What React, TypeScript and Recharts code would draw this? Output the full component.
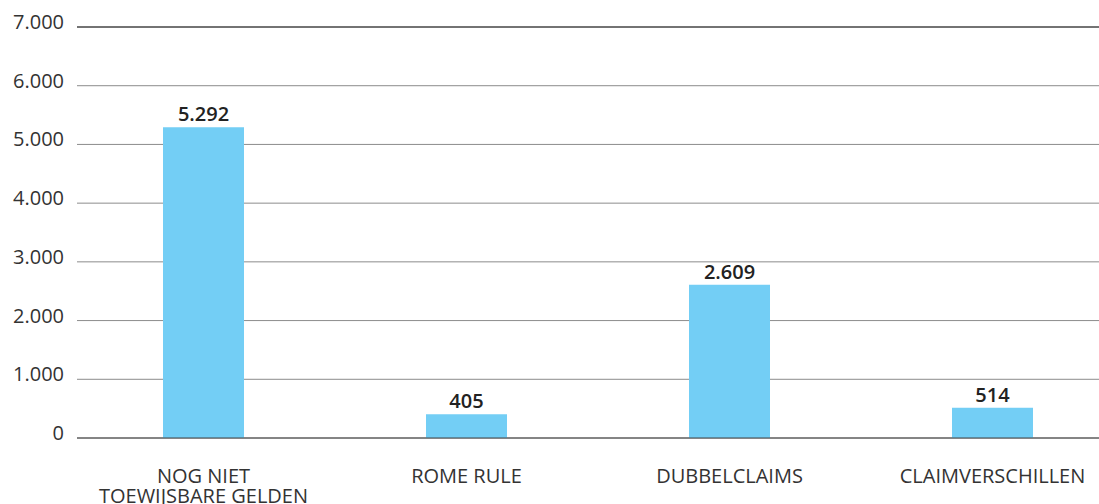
import React from "react";
import { BarChart, Bar, XAxis, YAxis, CartesianGrid, LabelList, ReferenceLine } from "recharts";

const categories = ["NOG NIET\nTOEWIJSBARE GELDEN", "ROME RULE", "DUBBELCLAIMS", "CLAIMVERSCHILLEN"];
const amounts = [5292, 405, 2609, 514];
const yTicks = [0, 1000, 2000, 3000, 4000, 5000, 6000, 7000];

const data = categories.map((c, i) => ({ name: c, value: amounts[i] }));

const fmt = (v: number | string) => String(v).replace(/\B(?=(\d{3})+(?!\d))/g, ".");

const FONT = "'Open Sans', 'Noto Sans', sans-serif";

const YTick = (props: any) => {
  const { x, y, payload } = props;
  return (
    <text x={x} y={y + 2} textAnchor="end" fontSize={20} fill="#333" fontFamily={FONT}>
      {fmt(payload.value)}
    </text>
  );
};

const XTick = (props: any) => {
  const { x, y, payload } = props;
  const lines = String(payload.value).split("\n");
  return (
    <g>
      {lines.map((l, i) => (
        <text key={i} x={x} y={y + 43 + i * 20} textAnchor="middle" fontSize={20} fill="#333" fontFamily={FONT}>
          {l}
        </text>
      ))}
    </g>
  );
};

export default function App() {
  React.useEffect(() => {
    document.body.style.margin = "0";
    document.body.style.overflow = "hidden";
  }, []);
  return (
    <div style={{ position: "absolute", left: 0, top: 0, width: 1099, height: 504, background: "#fff", overflow: "hidden" }}>
      <BarChart width={1099} height={504} data={data} margin={{ top: 27, right: 0, bottom: 0, left: 0 }}>
        <CartesianGrid vertical={false} stroke="#8c8c8c" />
        <XAxis
          dataKey="name"
          height={66}
          tickLine={false}
          axisLine={false}
          tickSize={0}
          tick={<XTick />}
          interval={0}
          padding={{ left: -5, right: -25 }}
        />
        <YAxis
          width={77}
          domain={[0, 7000]}
          ticks={yTicks}
          tickLine={false}
          axisLine={false}
          tickSize={0}
          tickMargin={13}
          tick={<YTick />}
        />
        <ReferenceLine y={7000} stroke="#222" />
        <Bar dataKey="value" fill="#73cef5" barSize={81} isAnimationActive={false}>
          <LabelList
            dataKey="value"
            position="top"
            offset={6}
            formatter={(v: any) => fmt(v)}
            fontSize={20}
            fontWeight={600}
            fill="#222"
            fontFamily={FONT}
          />
        </Bar>
        <ReferenceLine y={0} stroke="#444" />
      </BarChart>
    </div>
  );
}
